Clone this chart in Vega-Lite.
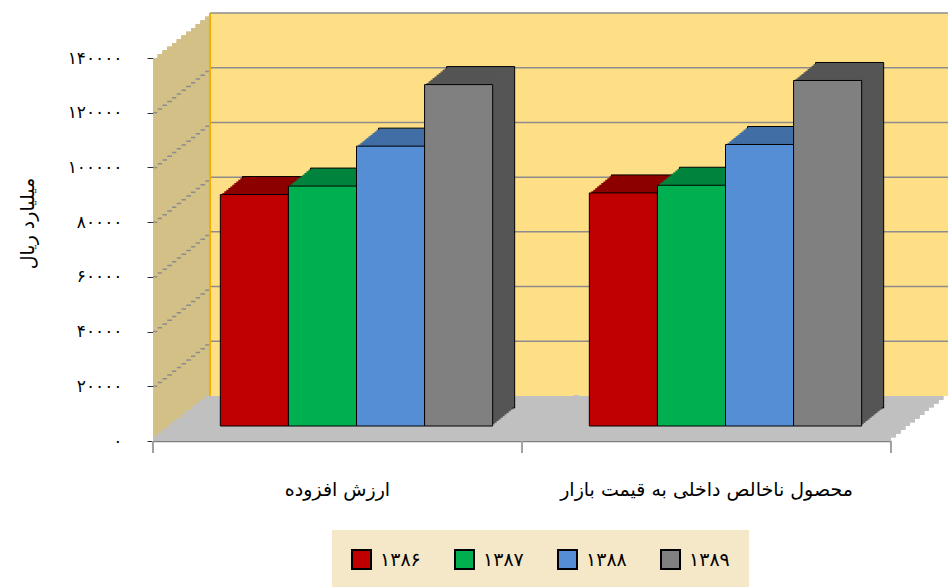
{
  "$schema": "https://vega.github.io/schema/vega-lite/v6.json",
  "padding": {"left": 18, "top": 12, "right": 0, "bottom": 0},
  "bounds": "flush",
  "background": "white",
  "datasets": {
    "bars": [
      {"cat": "ارزش افزوده", "year": "۱۳۸۶", "value": 84600},
      {"cat": "ارزش افزوده", "year": "۱۳۸۷", "value": 87700},
      {"cat": "ارزش افزوده", "year": "۱۳۸۸", "value": 102300},
      {"cat": "ارزش افزوده", "year": "۱۳۸۹", "value": 124800},
      {"cat": "محصول ناخالص داخلی به قیمت بازار", "year": "۱۳۸۶", "value": 85200},
      {"cat": "محصول ناخالص داخلی به قیمت بازار", "year": "۱۳۸۷", "value": 88000},
      {"cat": "محصول ناخالص داخلی به قیمت بازار", "year": "۱۳۸۸", "value": 102900},
      {"cat": "محصول ناخالص داخلی به قیمت بازار", "year": "۱۳۸۹", "value": 126300}
    ],
    "gs": [{"g": 20000}, {"g": 40000}, {"g": 60000}, {"g": 80000}, {"g": 100000}, {"g": 120000}],
    "gb": [{"g": 20000}, {"g": 40000}, {"g": 60000}, {"g": 80000}, {"g": 100000}, {"g": 120000}, {"g": 140000}]
  },
  "data": {"name": "bars"},
  "spacing": 0,
  "facet": {
    "column": {
      "field": "cat",
      "type": "nominal",
      "sort": ["ارزش افزوده", "محصول ناخالص داخلی به قیمت بازار"],
      "title": null,
      "header": {"labelOrient": "bottom", "labelFont": "DejaVu Sans", "labelFontSize": 19, "labelColor": "black", "labelPadding": 40, "title": null}
    }
  },
  "spec": {
    "width": 369,
    "height": 383,
    "layer": [
      {"mark": {"type": "rect", "xOffset": 0, "x2Offset": 0, "yOffset": 0, "y2Offset": 0}, "encoding": {"x": {"value": 0}, "x2": {"value": "width"}, "y": {"datum": 0, "type": "quantitative", "title": "میلیارد ریال", "scale": {"domain": [0, 140000], "nice": false, "zero": true}, "axis": {"title": "میلیارد ریال", "values": [0, 20000, 40000, 60000, 80000, 100000, 120000, 140000], "labelExpr": "datum.value===0?'۰':datum.value===20000?'۲۰۰۰۰':datum.value===40000?'۴۰۰۰۰':datum.value===60000?'۶۰۰۰۰':datum.value===80000?'۸۰۰۰۰':datum.value===100000?'۱۰۰۰۰۰':datum.value===120000?'۱۲۰۰۰۰':'۱۴۰۰۰۰'", "grid": false, "tickSize": 6, "tickColor": "#333333", "domainColor": "#333333", "labelPadding": 25, "labelFontSize": 17, "labelFont": "DejaVu Sans", "labelColor": "black", "titleFont": "DejaVu Sans", "titleFontSize": 19, "titleFontWeight": "normal", "titleColor": "black", "titleX": -126, "titleY": 165, "titleAngle": 270, "titleAlign": "center", "titleBaseline": "middle", "zindex": 1}}, "y2": {"datum": 140000}, "fill": {"condition": {"test": "datum.cat==='ارزش افزوده'", "value": {"gradient": "linear", "x1": 0, "y1": 0, "x2": 0, "y2": 1, "stops": [{"offset": 0, "color": "#D3C086"}, {"offset": 0.988, "color": "#D3C086"}, {"offset": 0.988, "color": "#C0C0C0"}, {"offset": 1, "color": "#C0C0C0"}]}}, "value": {"gradient": "linear", "x1": 0, "y1": 0, "x2": 0, "y2": 1, "stops": [{"offset": 0, "color": "rgba(255,255,255,0)"}, {"offset": 0.988, "color": "rgba(255,255,255,0)"}, {"offset": 0.988, "color": "#C0C0C0"}, {"offset": 1, "color": "#C0C0C0"}]}}}},
      {"data": {"name": "gs"}, "mark": {"type": "rule", "xOffset": 0, "x2Offset": 0, "yOffset": 0, "color": "#8C8C8C", "strokeWidth": 1.5}, "encoding": {"x": {"value": 0}, "x2": {"value": "width"}, "y": {"field": "g", "type": "quantitative"}, "strokeOpacity": {"condition": {"test": "parent.cat==='ارزش افزوده'", "value": 1}, "value": 0}}},
      {"mark": {"type": "rect", "xOffset": 4.75, "x2Offset": 4.75, "yOffset": -3.75, "y2Offset": -3.75}, "encoding": {"x": {"value": 0}, "x2": {"value": "width"}, "y": {"datum": 0, "type": "quantitative"}, "y2": {"datum": 140000}, "fill": {"condition": {"test": "datum.cat==='ارزش افزوده'", "value": {"gradient": "linear", "x1": 0, "y1": 0, "x2": 0, "y2": 1, "stops": [{"offset": 0, "color": "#D3C086"}, {"offset": 0.988, "color": "#D3C086"}, {"offset": 0.988, "color": "#C0C0C0"}, {"offset": 1, "color": "#C0C0C0"}]}}, "value": {"gradient": "linear", "x1": 0, "y1": 0, "x2": 0, "y2": 1, "stops": [{"offset": 0, "color": "rgba(255,255,255,0)"}, {"offset": 0.988, "color": "rgba(255,255,255,0)"}, {"offset": 0.988, "color": "#C0C0C0"}, {"offset": 1, "color": "#C0C0C0"}]}}}},
      {"data": {"name": "gs"}, "mark": {"type": "rule", "xOffset": 4.75, "x2Offset": 4.75, "yOffset": -3.75, "color": "#8C8C8C", "strokeWidth": 1.5}, "encoding": {"x": {"value": 0}, "x2": {"value": "width"}, "y": {"field": "g", "type": "quantitative"}, "strokeOpacity": {"condition": {"test": "parent.cat==='ارزش افزوده'", "value": 1}, "value": 0}}},
      {"mark": {"type": "rect", "xOffset": 9.5, "x2Offset": 9.5, "yOffset": -7.5, "y2Offset": -7.5}, "encoding": {"x": {"value": 0}, "x2": {"value": "width"}, "y": {"datum": 0, "type": "quantitative"}, "y2": {"datum": 140000}, "fill": {"condition": {"test": "datum.cat==='ارزش افزوده'", "value": {"gradient": "linear", "x1": 0, "y1": 0, "x2": 0, "y2": 1, "stops": [{"offset": 0, "color": "#D3C086"}, {"offset": 0.988, "color": "#D3C086"}, {"offset": 0.988, "color": "#C0C0C0"}, {"offset": 1, "color": "#C0C0C0"}]}}, "value": {"gradient": "linear", "x1": 0, "y1": 0, "x2": 0, "y2": 1, "stops": [{"offset": 0, "color": "rgba(255,255,255,0)"}, {"offset": 0.988, "color": "rgba(255,255,255,0)"}, {"offset": 0.988, "color": "#C0C0C0"}, {"offset": 1, "color": "#C0C0C0"}]}}}},
      {"data": {"name": "gs"}, "mark": {"type": "rule", "xOffset": 9.5, "x2Offset": 9.5, "yOffset": -7.5, "color": "#8C8C8C", "strokeWidth": 1.5}, "encoding": {"x": {"value": 0}, "x2": {"value": "width"}, "y": {"field": "g", "type": "quantitative"}, "strokeOpacity": {"condition": {"test": "parent.cat==='ارزش افزوده'", "value": 1}, "value": 0}}},
      {"mark": {"type": "rect", "xOffset": 14.25, "x2Offset": 14.25, "yOffset": -11.25, "y2Offset": -11.25}, "encoding": {"x": {"value": 0}, "x2": {"value": "width"}, "y": {"datum": 0, "type": "quantitative"}, "y2": {"datum": 140000}, "fill": {"condition": {"test": "datum.cat==='ارزش افزوده'", "value": {"gradient": "linear", "x1": 0, "y1": 0, "x2": 0, "y2": 1, "stops": [{"offset": 0, "color": "#D3C086"}, {"offset": 0.988, "color": "#D3C086"}, {"offset": 0.988, "color": "#C0C0C0"}, {"offset": 1, "color": "#C0C0C0"}]}}, "value": {"gradient": "linear", "x1": 0, "y1": 0, "x2": 0, "y2": 1, "stops": [{"offset": 0, "color": "rgba(255,255,255,0)"}, {"offset": 0.988, "color": "rgba(255,255,255,0)"}, {"offset": 0.988, "color": "#C0C0C0"}, {"offset": 1, "color": "#C0C0C0"}]}}}},
      {"data": {"name": "gs"}, "mark": {"type": "rule", "xOffset": 14.25, "x2Offset": 14.25, "yOffset": -11.25, "color": "#8C8C8C", "strokeWidth": 1.5}, "encoding": {"x": {"value": 0}, "x2": {"value": "width"}, "y": {"field": "g", "type": "quantitative"}, "strokeOpacity": {"condition": {"test": "parent.cat==='ارزش افزوده'", "value": 1}, "value": 0}}},
      {"mark": {"type": "rect", "xOffset": 19, "x2Offset": 19, "yOffset": -15, "y2Offset": -15}, "encoding": {"x": {"value": 0}, "x2": {"value": "width"}, "y": {"datum": 0, "type": "quantitative"}, "y2": {"datum": 140000}, "fill": {"condition": {"test": "datum.cat==='ارزش افزوده'", "value": {"gradient": "linear", "x1": 0, "y1": 0, "x2": 0, "y2": 1, "stops": [{"offset": 0, "color": "#D3C086"}, {"offset": 0.988, "color": "#D3C086"}, {"offset": 0.988, "color": "#C0C0C0"}, {"offset": 1, "color": "#C0C0C0"}]}}, "value": {"gradient": "linear", "x1": 0, "y1": 0, "x2": 0, "y2": 1, "stops": [{"offset": 0, "color": "rgba(255,255,255,0)"}, {"offset": 0.988, "color": "rgba(255,255,255,0)"}, {"offset": 0.988, "color": "#C0C0C0"}, {"offset": 1, "color": "#C0C0C0"}]}}}},
      {"data": {"name": "gs"}, "mark": {"type": "rule", "xOffset": 19, "x2Offset": 19, "yOffset": -15, "color": "#8C8C8C", "strokeWidth": 1.5}, "encoding": {"x": {"value": 0}, "x2": {"value": "width"}, "y": {"field": "g", "type": "quantitative"}, "strokeOpacity": {"condition": {"test": "parent.cat==='ارزش افزوده'", "value": 1}, "value": 0}}},
      {"mark": {"type": "rect", "xOffset": 23.75, "x2Offset": 23.75, "yOffset": -18.75, "y2Offset": -18.75}, "encoding": {"x": {"value": 0}, "x2": {"value": "width"}, "y": {"datum": 0, "type": "quantitative"}, "y2": {"datum": 140000}, "fill": {"condition": {"test": "datum.cat==='ارزش افزوده'", "value": {"gradient": "linear", "x1": 0, "y1": 0, "x2": 0, "y2": 1, "stops": [{"offset": 0, "color": "#D3C086"}, {"offset": 0.988, "color": "#D3C086"}, {"offset": 0.988, "color": "#C0C0C0"}, {"offset": 1, "color": "#C0C0C0"}]}}, "value": {"gradient": "linear", "x1": 0, "y1": 0, "x2": 0, "y2": 1, "stops": [{"offset": 0, "color": "rgba(255,255,255,0)"}, {"offset": 0.988, "color": "rgba(255,255,255,0)"}, {"offset": 0.988, "color": "#C0C0C0"}, {"offset": 1, "color": "#C0C0C0"}]}}}},
      {"data": {"name": "gs"}, "mark": {"type": "rule", "xOffset": 23.75, "x2Offset": 23.75, "yOffset": -18.75, "color": "#8C8C8C", "strokeWidth": 1.5}, "encoding": {"x": {"value": 0}, "x2": {"value": "width"}, "y": {"field": "g", "type": "quantitative"}, "strokeOpacity": {"condition": {"test": "parent.cat==='ارزش افزوده'", "value": 1}, "value": 0}}},
      {"mark": {"type": "rect", "xOffset": 28.5, "x2Offset": 28.5, "yOffset": -22.5, "y2Offset": -22.5}, "encoding": {"x": {"value": 0}, "x2": {"value": "width"}, "y": {"datum": 0, "type": "quantitative"}, "y2": {"datum": 140000}, "fill": {"condition": {"test": "datum.cat==='ارزش افزوده'", "value": {"gradient": "linear", "x1": 0, "y1": 0, "x2": 0, "y2": 1, "stops": [{"offset": 0, "color": "#D3C086"}, {"offset": 0.988, "color": "#D3C086"}, {"offset": 0.988, "color": "#C0C0C0"}, {"offset": 1, "color": "#C0C0C0"}]}}, "value": {"gradient": "linear", "x1": 0, "y1": 0, "x2": 0, "y2": 1, "stops": [{"offset": 0, "color": "rgba(255,255,255,0)"}, {"offset": 0.988, "color": "rgba(255,255,255,0)"}, {"offset": 0.988, "color": "#C0C0C0"}, {"offset": 1, "color": "#C0C0C0"}]}}}},
      {"data": {"name": "gs"}, "mark": {"type": "rule", "xOffset": 28.5, "x2Offset": 28.5, "yOffset": -22.5, "color": "#8C8C8C", "strokeWidth": 1.5}, "encoding": {"x": {"value": 0}, "x2": {"value": "width"}, "y": {"field": "g", "type": "quantitative"}, "strokeOpacity": {"condition": {"test": "parent.cat==='ارزش افزوده'", "value": 1}, "value": 0}}},
      {"mark": {"type": "rect", "xOffset": 33.25, "x2Offset": 33.25, "yOffset": -26.25, "y2Offset": -26.25}, "encoding": {"x": {"value": 0}, "x2": {"value": "width"}, "y": {"datum": 0, "type": "quantitative"}, "y2": {"datum": 140000}, "fill": {"condition": {"test": "datum.cat==='ارزش افزوده'", "value": {"gradient": "linear", "x1": 0, "y1": 0, "x2": 0, "y2": 1, "stops": [{"offset": 0, "color": "#D3C086"}, {"offset": 0.988, "color": "#D3C086"}, {"offset": 0.988, "color": "#C0C0C0"}, {"offset": 1, "color": "#C0C0C0"}]}}, "value": {"gradient": "linear", "x1": 0, "y1": 0, "x2": 0, "y2": 1, "stops": [{"offset": 0, "color": "rgba(255,255,255,0)"}, {"offset": 0.988, "color": "rgba(255,255,255,0)"}, {"offset": 0.988, "color": "#C0C0C0"}, {"offset": 1, "color": "#C0C0C0"}]}}}},
      {"data": {"name": "gs"}, "mark": {"type": "rule", "xOffset": 33.25, "x2Offset": 33.25, "yOffset": -26.25, "color": "#8C8C8C", "strokeWidth": 1.5}, "encoding": {"x": {"value": 0}, "x2": {"value": "width"}, "y": {"field": "g", "type": "quantitative"}, "strokeOpacity": {"condition": {"test": "parent.cat==='ارزش افزوده'", "value": 1}, "value": 0}}},
      {"mark": {"type": "rect", "xOffset": 38, "x2Offset": 38, "yOffset": -30, "y2Offset": -30}, "encoding": {"x": {"value": 0}, "x2": {"value": "width"}, "y": {"datum": 0, "type": "quantitative"}, "y2": {"datum": 140000}, "fill": {"condition": {"test": "datum.cat==='ارزش افزوده'", "value": {"gradient": "linear", "x1": 0, "y1": 0, "x2": 0, "y2": 1, "stops": [{"offset": 0, "color": "#D3C086"}, {"offset": 0.988, "color": "#D3C086"}, {"offset": 0.988, "color": "#C0C0C0"}, {"offset": 1, "color": "#C0C0C0"}]}}, "value": {"gradient": "linear", "x1": 0, "y1": 0, "x2": 0, "y2": 1, "stops": [{"offset": 0, "color": "rgba(255,255,255,0)"}, {"offset": 0.988, "color": "rgba(255,255,255,0)"}, {"offset": 0.988, "color": "#C0C0C0"}, {"offset": 1, "color": "#C0C0C0"}]}}}},
      {"data": {"name": "gs"}, "mark": {"type": "rule", "xOffset": 38, "x2Offset": 38, "yOffset": -30, "color": "#8C8C8C", "strokeWidth": 1.5}, "encoding": {"x": {"value": 0}, "x2": {"value": "width"}, "y": {"field": "g", "type": "quantitative"}, "strokeOpacity": {"condition": {"test": "parent.cat==='ارزش افزوده'", "value": 1}, "value": 0}}},
      {"mark": {"type": "rect", "xOffset": 42.75, "x2Offset": 42.75, "yOffset": -33.75, "y2Offset": -33.75}, "encoding": {"x": {"value": 0}, "x2": {"value": "width"}, "y": {"datum": 0, "type": "quantitative"}, "y2": {"datum": 140000}, "fill": {"condition": {"test": "datum.cat==='ارزش افزوده'", "value": {"gradient": "linear", "x1": 0, "y1": 0, "x2": 0, "y2": 1, "stops": [{"offset": 0, "color": "#D3C086"}, {"offset": 0.988, "color": "#D3C086"}, {"offset": 0.988, "color": "#C0C0C0"}, {"offset": 1, "color": "#C0C0C0"}]}}, "value": {"gradient": "linear", "x1": 0, "y1": 0, "x2": 0, "y2": 1, "stops": [{"offset": 0, "color": "rgba(255,255,255,0)"}, {"offset": 0.988, "color": "rgba(255,255,255,0)"}, {"offset": 0.988, "color": "#C0C0C0"}, {"offset": 1, "color": "#C0C0C0"}]}}}},
      {"data": {"name": "gs"}, "mark": {"type": "rule", "xOffset": 42.75, "x2Offset": 42.75, "yOffset": -33.75, "color": "#8C8C8C", "strokeWidth": 1.5}, "encoding": {"x": {"value": 0}, "x2": {"value": "width"}, "y": {"field": "g", "type": "quantitative"}, "strokeOpacity": {"condition": {"test": "parent.cat==='ارزش افزوده'", "value": 1}, "value": 0}}},
      {"mark": {"type": "rect", "xOffset": 47.5, "x2Offset": 47.5, "yOffset": -37.5, "y2Offset": -37.5}, "encoding": {"x": {"value": 0}, "x2": {"value": "width"}, "y": {"datum": 0, "type": "quantitative"}, "y2": {"datum": 140000}, "fill": {"condition": {"test": "datum.cat==='ارزش افزوده'", "value": {"gradient": "linear", "x1": 0, "y1": 0, "x2": 0, "y2": 1, "stops": [{"offset": 0, "color": "#D3C086"}, {"offset": 0.988, "color": "#D3C086"}, {"offset": 0.988, "color": "#C0C0C0"}, {"offset": 1, "color": "#C0C0C0"}]}}, "value": {"gradient": "linear", "x1": 0, "y1": 0, "x2": 0, "y2": 1, "stops": [{"offset": 0, "color": "rgba(255,255,255,0)"}, {"offset": 0.988, "color": "rgba(255,255,255,0)"}, {"offset": 0.988, "color": "#C0C0C0"}, {"offset": 1, "color": "#C0C0C0"}]}}}},
      {"data": {"name": "gs"}, "mark": {"type": "rule", "xOffset": 47.5, "x2Offset": 47.5, "yOffset": -37.5, "color": "#8C8C8C", "strokeWidth": 1.5}, "encoding": {"x": {"value": 0}, "x2": {"value": "width"}, "y": {"field": "g", "type": "quantitative"}, "strokeOpacity": {"condition": {"test": "parent.cat==='ارزش افزوده'", "value": 1}, "value": 0}}},
      {"mark": {"type": "rect", "xOffset": 52.25, "x2Offset": 52.25, "yOffset": -41.25, "y2Offset": -41.25}, "encoding": {"x": {"value": 0}, "x2": {"value": "width"}, "y": {"datum": 0, "type": "quantitative"}, "y2": {"datum": 140000}, "fill": {"condition": {"test": "datum.cat==='ارزش افزوده'", "value": {"gradient": "linear", "x1": 0, "y1": 0, "x2": 0, "y2": 1, "stops": [{"offset": 0, "color": "#D3C086"}, {"offset": 0.988, "color": "#D3C086"}, {"offset": 0.988, "color": "#C0C0C0"}, {"offset": 1, "color": "#C0C0C0"}]}}, "value": {"gradient": "linear", "x1": 0, "y1": 0, "x2": 0, "y2": 1, "stops": [{"offset": 0, "color": "rgba(255,255,255,0)"}, {"offset": 0.988, "color": "rgba(255,255,255,0)"}, {"offset": 0.988, "color": "#C0C0C0"}, {"offset": 1, "color": "#C0C0C0"}]}}}},
      {"data": {"name": "gs"}, "mark": {"type": "rule", "xOffset": 52.25, "x2Offset": 52.25, "yOffset": -41.25, "color": "#8C8C8C", "strokeWidth": 1.5}, "encoding": {"x": {"value": 0}, "x2": {"value": "width"}, "y": {"field": "g", "type": "quantitative"}, "strokeOpacity": {"condition": {"test": "parent.cat==='ارزش افزوده'", "value": 1}, "value": 0}}},
      {"mark": {"type": "rect", "xOffset": 57, "x2Offset": 57, "yOffset": -45, "y2Offset": -45, "fill": "#FFDF85"}, "encoding": {"x": {"value": 0}, "x2": {"value": "width"}, "y": {"datum": 0, "type": "quantitative"}, "y2": {"datum": 140000}}},
      {"data": {"name": "gb"}, "mark": {"type": "rule", "xOffset": 57, "x2Offset": 57, "yOffset": -45, "color": "#8C8C8C", "strokeWidth": 1.5}, "encoding": {"x": {"value": 0}, "x2": {"value": "width"}, "y": {"field": "g", "type": "quantitative"}}},
      {"mark": {"type": "rule", "xOffset": 57, "yOffset": -45, "y2Offset": -45, "color": "#F0B000", "strokeWidth": 1.5}, "encoding": {"x": {"value": 0}, "y": {"datum": 0, "type": "quantitative"}, "y2": {"datum": 140000}, "strokeOpacity": {"condition": {"test": "datum.cat==='ارزش افزوده'", "value": 1}, "value": 0}}},
      {"mark": {"type": "rule", "y2Offset": 12, "color": "#A0A0A0", "strokeWidth": 1.2}, "encoding": {"x": {"value": 0}, "y": {"datum": 0, "type": "quantitative"}, "y2": {"datum": 0}}},
      {"mark": {"type": "rule", "y2Offset": 12, "color": "#A0A0A0", "strokeWidth": 1.2}, "encoding": {"x": {"value": "width"}, "y": {"datum": 0, "type": "quantitative"}, "y2": {"datum": 0}, "strokeOpacity": {"condition": {"test": "datum.cat==='ارزش افزوده'", "value": 0}, "value": 1}}},
      {"mark": {"type": "bar", "xOffset": 41, "x2Offset": 41, "yOffset": -33, "y2Offset": -33, "stroke": "black", "strokeWidth": 1}, "encoding": {"x": {"field": "year", "type": "nominal", "scale": {"domain": ["۱۳۸۶", "۱۳۸۷", "۱۳۸۸", "۱۳۸۹"], "paddingInner": 0, "paddingOuter": 0.71}, "axis": {"labels": false, "ticks": false, "title": null, "grid": false, "domainColor": "#7F7F7F", "domainWidth": 1.5, "zindex": 1}}, "y": {"field": "value", "type": "quantitative"}, "y2": {"datum": 0}, "fill": {"condition": [{"test": "datum.year==='۱۳۸۶'", "value": "#8C0000"}, {"test": "datum.year==='۱۳۸۷'", "value": "#00843D"}, {"test": "datum.year==='۱۳۸۸'", "value": "#406EA5"}], "value": "#555555"}}},
      {"mark": {"type": "bar", "xOffset": 39, "x2Offset": 39, "yOffset": -31.36, "y2Offset": -31.36}, "encoding": {"x": {"field": "year", "type": "nominal"}, "y": {"field": "value", "type": "quantitative"}, "y2": {"datum": 0}, "fill": {"condition": [{"test": "datum.year==='۱۳۸۶'", "value": "#8C0000"}, {"test": "datum.year==='۱۳۸۷'", "value": "#00843D"}, {"test": "datum.year==='۱۳۸۸'", "value": "#406EA5"}], "value": "#555555"}}},
      {"mark": {"type": "bar", "xOffset": 37, "x2Offset": 37, "yOffset": -29.73, "y2Offset": -29.73}, "encoding": {"x": {"field": "year", "type": "nominal"}, "y": {"field": "value", "type": "quantitative"}, "y2": {"datum": 0}, "fill": {"condition": [{"test": "datum.year==='۱۳۸۶'", "value": "#8C0000"}, {"test": "datum.year==='۱۳۸۷'", "value": "#00843D"}, {"test": "datum.year==='۱۳۸۸'", "value": "#406EA5"}], "value": "#555555"}}},
      {"mark": {"type": "bar", "xOffset": 35, "x2Offset": 35, "yOffset": -28.09, "y2Offset": -28.09}, "encoding": {"x": {"field": "year", "type": "nominal"}, "y": {"field": "value", "type": "quantitative"}, "y2": {"datum": 0}, "fill": {"condition": [{"test": "datum.year==='۱۳۸۶'", "value": "#8C0000"}, {"test": "datum.year==='۱۳۸۷'", "value": "#00843D"}, {"test": "datum.year==='۱۳۸۸'", "value": "#406EA5"}], "value": "#555555"}}},
      {"mark": {"type": "bar", "xOffset": 33, "x2Offset": 33, "yOffset": -26.45, "y2Offset": -26.45}, "encoding": {"x": {"field": "year", "type": "nominal"}, "y": {"field": "value", "type": "quantitative"}, "y2": {"datum": 0}, "fill": {"condition": [{"test": "datum.year==='۱۳۸۶'", "value": "#8C0000"}, {"test": "datum.year==='۱۳۸۷'", "value": "#00843D"}, {"test": "datum.year==='۱۳۸۸'", "value": "#406EA5"}], "value": "#555555"}}},
      {"mark": {"type": "bar", "xOffset": 31, "x2Offset": 31, "yOffset": -24.82, "y2Offset": -24.82}, "encoding": {"x": {"field": "year", "type": "nominal"}, "y": {"field": "value", "type": "quantitative"}, "y2": {"datum": 0}, "fill": {"condition": [{"test": "datum.year==='۱۳۸۶'", "value": "#8C0000"}, {"test": "datum.year==='۱۳۸۷'", "value": "#00843D"}, {"test": "datum.year==='۱۳۸۸'", "value": "#406EA5"}], "value": "#555555"}}},
      {"mark": {"type": "bar", "xOffset": 29, "x2Offset": 29, "yOffset": -23.18, "y2Offset": -23.18}, "encoding": {"x": {"field": "year", "type": "nominal"}, "y": {"field": "value", "type": "quantitative"}, "y2": {"datum": 0}, "fill": {"condition": [{"test": "datum.year==='۱۳۸۶'", "value": "#8C0000"}, {"test": "datum.year==='۱۳۸۷'", "value": "#00843D"}, {"test": "datum.year==='۱۳۸۸'", "value": "#406EA5"}], "value": "#555555"}}},
      {"mark": {"type": "bar", "xOffset": 27, "x2Offset": 27, "yOffset": -21.55, "y2Offset": -21.55}, "encoding": {"x": {"field": "year", "type": "nominal"}, "y": {"field": "value", "type": "quantitative"}, "y2": {"datum": 0}, "fill": {"condition": [{"test": "datum.year==='۱۳۸۶'", "value": "#8C0000"}, {"test": "datum.year==='۱۳۸۷'", "value": "#00843D"}, {"test": "datum.year==='۱۳۸۸'", "value": "#406EA5"}], "value": "#555555"}}},
      {"mark": {"type": "bar", "xOffset": 25, "x2Offset": 25, "yOffset": -19.91, "y2Offset": -19.91}, "encoding": {"x": {"field": "year", "type": "nominal"}, "y": {"field": "value", "type": "quantitative"}, "y2": {"datum": 0}, "fill": {"condition": [{"test": "datum.year==='۱۳۸۶'", "value": "#8C0000"}, {"test": "datum.year==='۱۳۸۷'", "value": "#00843D"}, {"test": "datum.year==='۱۳۸۸'", "value": "#406EA5"}], "value": "#555555"}}},
      {"mark": {"type": "bar", "xOffset": 23, "x2Offset": 23, "yOffset": -18.27, "y2Offset": -18.27}, "encoding": {"x": {"field": "year", "type": "nominal"}, "y": {"field": "value", "type": "quantitative"}, "y2": {"datum": 0}, "fill": {"condition": [{"test": "datum.year==='۱۳۸۶'", "value": "#8C0000"}, {"test": "datum.year==='۱۳۸۷'", "value": "#00843D"}, {"test": "datum.year==='۱۳۸۸'", "value": "#406EA5"}], "value": "#555555"}}},
      {"mark": {"type": "bar", "xOffset": 21, "x2Offset": 21, "yOffset": -16.64, "y2Offset": -16.64}, "encoding": {"x": {"field": "year", "type": "nominal"}, "y": {"field": "value", "type": "quantitative"}, "y2": {"datum": 0}, "fill": {"condition": [{"test": "datum.year==='۱۳۸۶'", "value": "#8C0000"}, {"test": "datum.year==='۱۳۸۷'", "value": "#00843D"}, {"test": "datum.year==='۱۳۸۸'", "value": "#406EA5"}], "value": "#555555"}}},
      {"mark": {"type": "bar", "xOffset": 19, "x2Offset": 19, "yOffset": -15, "y2Offset": -15, "stroke": "black", "strokeWidth": 1}, "encoding": {"x": {"field": "year", "type": "nominal"}, "y": {"field": "value", "type": "quantitative"}, "y2": {"datum": 0}, "color": {"field": "year", "type": "nominal", "scale": {"domain": ["۱۳۸۶", "۱۳۸۷", "۱۳۸۸", "۱۳۸۹"], "range": ["#C00000", "#00B050", "#558ED5", "#808080"]}, "legend": {"orient": "none", "legendX": 179, "legendY": 472, "direction": "horizontal", "title": null, "symbolType": "square", "symbolSize": 361, "symbolStrokeColor": "black", "symbolStrokeWidth": 2, "symbolOpacity": 1, "labelFont": "DejaVu Sans", "labelFontSize": 19, "labelColor": "black", "labelOffset": 8, "columnPadding": 30, "padding": 19, "fillColor": "#F4E8C9"}}}}
    ]
  },
  "config": {"view": {"stroke": null}, "font": "DejaVu Sans"}
}
